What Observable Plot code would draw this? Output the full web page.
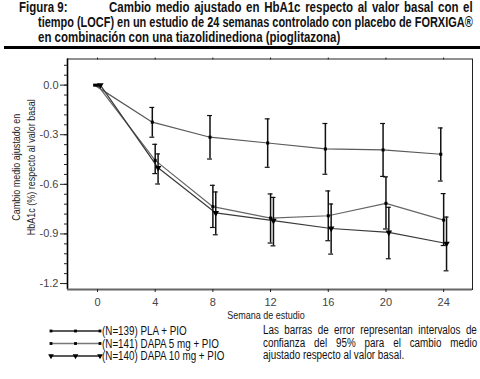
<!DOCTYPE html>
<html><head><meta charset="utf-8">
<script src="https://cdn.jsdelivr.net/npm/d3@7"></script>
<script src="https://cdn.jsdelivr.net/npm/@observablehq/plot@0.6"></script>
<style>
html,body{margin:0;padding:0;background:#fff;}
body{width:480px;height:379px;overflow:hidden;position:relative;font-family:"Liberation Sans",Arial,sans-serif;color:#111;}
.t{position:absolute;font-weight:bold;font-size:14px;line-height:15px;white-space:nowrap;display:inline-block;transform-origin:0 0;}
#rule{position:absolute;left:4px;top:46px;width:476px;height:3px;background:#000;}
#chart{position:absolute;left:0;top:50px;}
#legend{position:absolute;left:0;top:322px;}
.note{position:absolute;left:263px;font-size:12px;line-height:12.5px;white-space:nowrap;display:inline-block;transform-origin:0 0;}
</style></head>
<body>
<div class="t" id="t0" style="left:19px;top:0px;">Figura 9:</div>
<div class="t" id="t1" style="left:109px;top:0px;">Cambio medio ajustado en HbA1c respecto al valor basal con el</div>
<div class="t" id="t2" style="left:38px;top:15px;">tiempo (LOCF) en un estudio de 24 semanas controlado con placebo de FORXIGA®</div>
<div class="t" id="t3" style="left:38px;top:30px;">en combinación con una tiazolidinediona (pioglitazona)</div>
<div id="rule"></div>
<div id="chart"></div>
<div id="legend"></div>
<div class="note" id="n1" style="top:324px;">Las barras de error representan intervalos de</div>
<div class="note" id="n2" style="top:336.5px;">confianza del 95% para el cambio medio</div>
<div class="note" id="n3" style="top:349px;">ajustado respecto al valor basal.</div>
<script>
const weeks = [0, 4, 8, 12, 16, 20, 24];
const xTicks = [0, 4, 8, 12, 16, 20, 24];
const yTicks = [0, -0.3, -0.6, -0.9, -1.2];
const seriesNames = ["(N=139) PLA + PIO", "(N=141) DAPA 5 mg + PIO", "(N=140) DAPA 10 mg + PIO"];

const plaMean  = [0, -0.224, -0.315, -0.350, -0.386, -0.392, -0.418];
const plaLow   = [0, -0.315, -0.447, -0.497, -0.539, -0.552, -0.580];
const plaHigh  = [0, -0.135, -0.184, -0.204, -0.232, -0.232, -0.259];

const dapa5Mean = [0, -0.455, -0.735, -0.804, -0.790, -0.715, -0.816];
const dapa5Low  = [0, -0.535, -0.861, -0.955, -0.941, -0.870, -0.970];
const dapa5High = [0, -0.358, -0.606, -0.658, -0.640, -0.555, -0.656];

const dapa10Mean = [0, -0.500, -0.773, -0.820, -0.867, -0.891, -0.958];
const dapa10Low  = [0, -0.598, -0.905, -0.972, -1.022, -1.050, -1.123];
const dapa10High = [0, -0.416, -0.646, -0.679, -0.719, -0.739, -0.798];

const seriesData = [
  {mean: plaMean, low: plaLow, high: plaHigh},
  {mean: dapa5Mean, low: dapa5Low, high: dapa5High},
  {mean: dapa10Mean, low: dapa10Low, high: dapa10High}
];
const styles = [
  {line: "#5a5a5a", legendLine: "#222", symbol: "square", r: 1.7, rotate: 0, dodge: -0.2},
  {line: "#666", legendLine: "#777", symbol: "square", r: 1.7, rotate: 0, dodge: 0},
  {line: "#3a3a3a", legendLine: "#222", symbol: "triangle", r: 2.4, rotate: 180, dodge: 0.2}
];

// narrow-font emulation (Arial Narrow ≈ Arial at 82% width) + justification
const NARROW = 0.82;
function fitLine(id, target) {
  const el = document.getElementById(id);
  el.style.wordSpacing = "0px";
  const nat = el.offsetWidth;
  if (target == null) { el.style.transform = `scaleX(${NARROW})`; return; }
  const s = Math.min(NARROW, target / nat);
  const spaces = (el.textContent.match(/ /g) || []).length;
  el.style.wordSpacing = ((target / s - nat) / spaces) + "px";
  el.style.transform = `scaleX(${s})`;
}
fitLine("t0"); fitLine("t1", 364); fitLine("t2", 435); fitLine("t3");
fitLine("n1", 214); fitLine("n2", 214); fitLine("n3");

const rows = [];
seriesData.forEach((s, k) => {
  weeks.forEach((w, i) => {
    rows.push({series: seriesNames[k], k, week: w, x: w + styles[k].dodge,
      mean: s.mean[i], low: s.low[i], high: s.high[i]});
  });
});
const errRows = rows.filter(d => d.week > 0);
const capHalf = 0.17;
const xDomain = [-2.08, 26.0];
const yDomain = [-1.236, 0.158];
const minorTicks = d3.range(0.12, -1.23, -0.06).map(v => +v.toFixed(2));

const marks = [];
styles.forEach((st, k) => {
  marks.push(Plot.line(rows.filter(d => d.k === k), {x: "x", y: "mean", stroke: st.line, strokeWidth: 1.2}));
});
marks.push(
  Plot.ruleX(errRows, {x: "x", y1: "low", y2: "high", stroke: "#111", strokeWidth: 1.5}),
  Plot.ruleY(errRows, {y: "low", x1: d => d.x - capHalf, x2: d => d.x + capHalf, stroke: "#111", strokeWidth: 1.2}),
  Plot.ruleY(errRows, {y: "high", x1: d => d.x - capHalf, x2: d => d.x + capHalf, stroke: "#111", strokeWidth: 1.2})
);
styles.forEach((st, k) => {
  marks.push(Plot.dot(rows.filter(d => d.k === k), {x: "x", y: "mean", symbol: () => st.symbol, r: st.r, rotate: st.rotate, fill: "#000", stroke: "none"}));
});
marks.push(
  Plot.frame({stroke: "#222", strokeWidth: 1}),
  Plot.ruleX([xDomain[0]], {stroke: "#000", strokeWidth: 1.6}),
  Plot.ruleY([yDomain[0]], {stroke: "#666", strokeWidth: 2}),
  Plot.axisY(minorTicks, {tickSize: 3, tickFormat: () => "", label: null, stroke: "#222"}),
  Plot.axisY(yTicks, {tickSize: 7, tickPadding: 2, tickFormat: d => d.toFixed(1), label: null, fontSize: 11, fill: "#444", stroke: "#222"}),
  Plot.axisX(xTicks, {tickSize: 3, tickPadding: 6, tickFormat: d => String(d), label: null, fontSize: 11, fill: "#444", stroke: "#222"}),
  Plot.axisX(xTicks, {anchor: "top", tickSize: 2, tickFormat: () => "", label: null, stroke: "#222"}),
  Plot.text(["Semana de estudio"], {frameAnchor: "bottom", lineAnchor: "middle", textAnchor: "middle", dy: 26, dx: -4, fontSize: 11, fill: "#222"}),
  Plot.text(["Cambio medio ajustado en\nHbA1c (%) respecto al valor basal"], {frameAnchor: "left", textAnchor: "middle", lineAnchor: "middle", rotate: -90, dx: -45, dy: -7, lineHeight: 1.35, fontSize: 11, fill: "#222"})
);

const chart = Plot.plot({
  width: 480, height: 272,
  marginLeft: 67, marginRight: 8, marginTop: 8.5, marginBottom: 33,
  x: {domain: xDomain},
  y: {domain: yDomain},
  style: {fontFamily: '"Liberation Sans",Arial,sans-serif', fontSize: "11px", background: "transparent", color: "#222"},
  marks
});
document.getElementById("chart").appendChild(chart);

// compress axis-title texts to a narrow face
chart.querySelectorAll("text").forEach(t => {
  const s = t.textContent;
  if (s.includes("Semana")) {
    const len = t.getComputedTextLength();
    t.setAttribute("textLength", (len * NARROW).toFixed(1));
    t.setAttribute("lengthAdjust", "spacingAndGlyphs");
  } else if (s.includes("Cambio")) {
    const tr = t.getAttribute("transform") || "";
    t.setAttribute("transform", `${tr} scale(${NARROW},1)`);
  }
});

// legend
const lg = d3.select("#legend").append("svg").attr("width", 480).attr("height", 57);
const rowY = [9, 21.5, 34];
const sx = [51, 75.5, 100];
styles.forEach((st, k) => {
  const g = lg.append("g");
  g.append("line").attr("x1", sx[0]).attr("x2", sx[2]).attr("y1", rowY[k]).attr("y2", rowY[k])
    .attr("stroke", st.legendLine).attr("stroke-width", 1.4);
  sx.forEach(x => {
    const sym = d3.symbol(st.symbol === "square" ? d3.symbolSquare : d3.symbolTriangle, st.symbol === "square" ? 8 : 14)();
    g.append("path").attr("d", sym).attr("transform", `translate(${x},${rowY[k]}) rotate(${st.rotate})`).attr("fill", "#000");
  });
  g.append("text").attr("transform", `translate(102,${rowY[k]}) scale(${NARROW},1)`).attr("dy", "0.36em")
    .attr("font-size", 12).attr("fill", "#111")
    .attr("font-family", '"Liberation Sans",Arial,sans-serif')
    .text(seriesNames[k]);
});
</script>
</body></html>
